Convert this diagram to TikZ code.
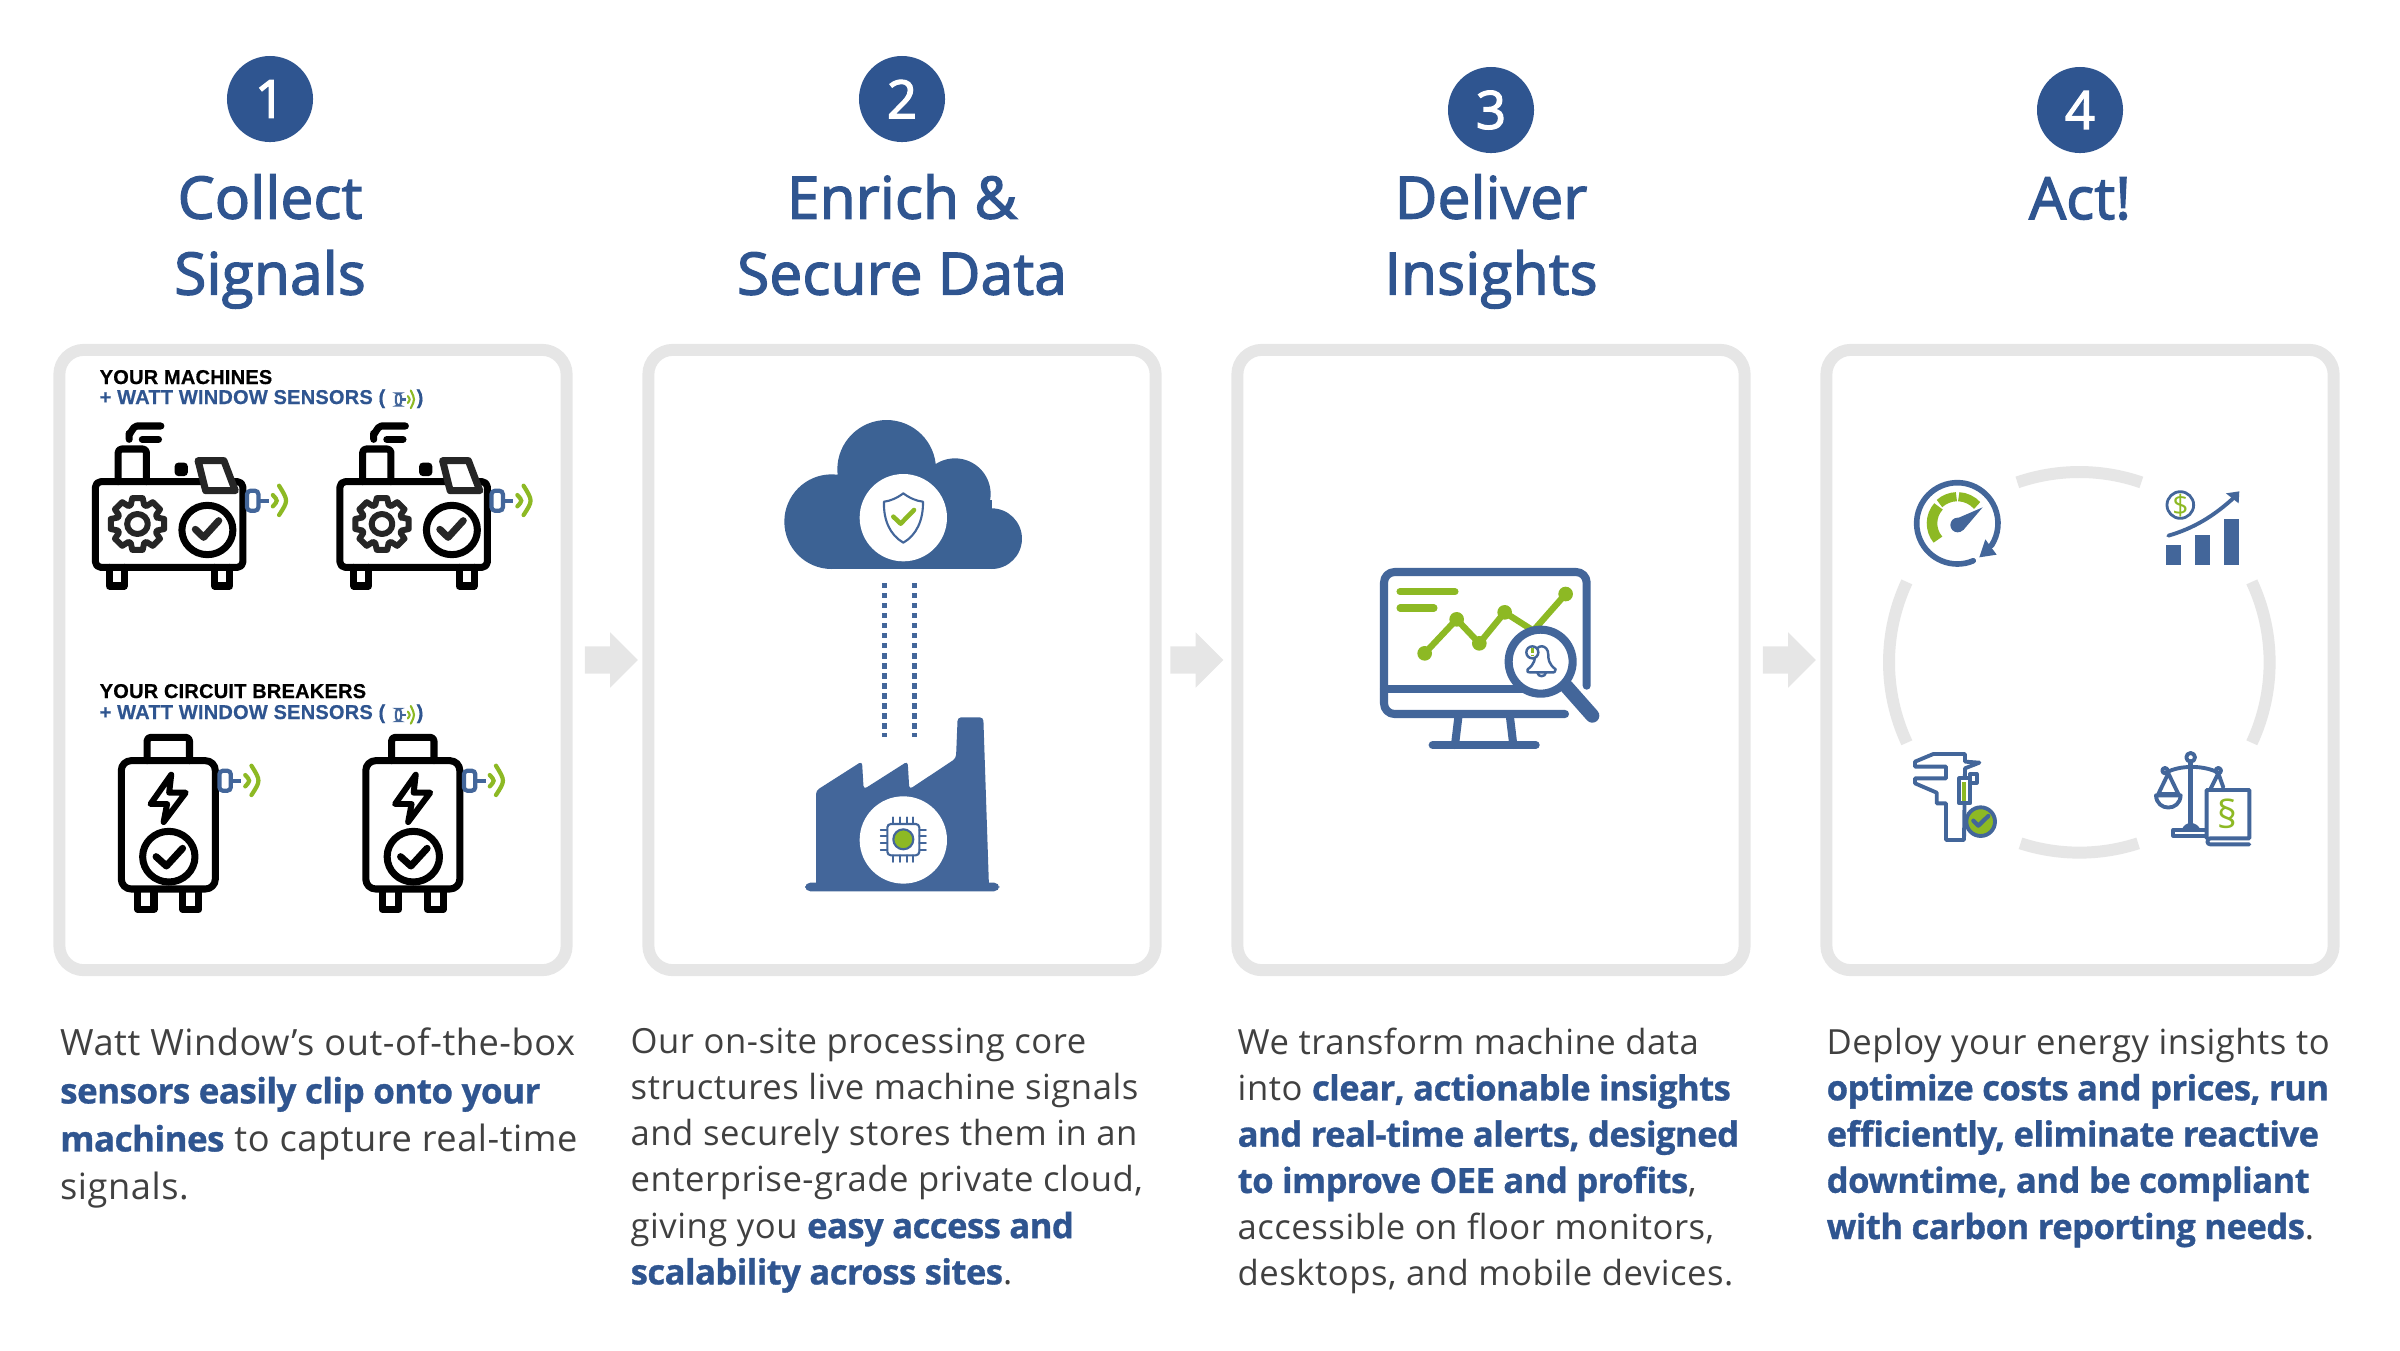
\documentclass[tikz,border=0pt]{standalone}
\usepackage{fontspec}
\setmainfont{Open Sans}[LetterSpace=1.5,BoldFeatures={LetterSpace=-1.6,FakeBold=0.9}]
\newfontfamily\titlefont{Open Sans}[LetterSpace=0.5,FakeBold=2.4]
\newfontfamily\headfont{Liberation Sans}[LetterSpace=1,BoldFeatures={FakeBold=0.5}]
\usepackage{xcolor}
\usetikzlibrary{shapes.arrows,positioning}
\definecolor{wwblue}{HTML}{2F5590}
\definecolor{iconblue}{HTML}{43669A}
\definecolor{cloudblue}{HTML}{3C6294}
\definecolor{wwgreen}{HTML}{8DB924}
\definecolor{cardgray}{HTML}{E6E6E6}
\definecolor{bodygray}{HTML}{404040}
\newcommand{\hilite}[1]{{\bfseries\color{wwblue}#1}}
\tikzset{
  pics/sensor/.style={code={
    \draw[draw=iconblue, fill=white, line width=#1, rounded corners=1pt] (3,-30) -- (36,-30) -- (36,30) -- (3,30) -- cycle;
    \draw[draw=iconblue, line width=#1] (36,0) -- (66,0);
    \draw[draw=wwgreen, line width=#1, line cap=round] (78,-17) .. controls (93,0) .. (78,17);
    \draw[draw=wwgreen, line width=#1, line cap=round] (96,-45) .. controls (123,0) .. (96,43);
  }},
  pics/machine/.style={code={
    \draw[iconline] (230,298) -- (230,280) to[out=-90,in=180] (252,258) -- (322,258);
    \draw[iconline] (268,298) -- (315,298);
    \draw[iconline, rounded corners=1pt] (198,425) -- (198,327) -- (280,327) -- (280,425);
    \fill[black, rounded corners=1pt] (362,368) rectangle (400,408);
    \draw[iconline, rounded corners=1.5pt] (132,425) rectangle (560,682);
    \draw[iconline] (172,682) -- (172,738) -- (215,738) -- (215,682);
    \draw[iconline] (478,682) -- (478,738) -- (522,738) -- (522,682);
    \draw[iconline, fill=white, draw=black!85] (430,362) -- (505,362) -- (538,452) -- (452,452) -- cycle;
    \begin{scope}[shift={(254,552)}]
      \draw[iconline, draw=black!85, line width=1.7pt] (-18:60) \foreach \a in {0,45,...,315}{ -- (\a-19:60) -- (\a-11:79) -- (\a+11:79) -- (\a+19:60)} -- cycle;
      \draw[iconline, draw=black!85, line width=1.7pt] (0,0) circle (30);
    \end{scope}
    \draw[iconline] (457,570) circle (74);
    \draw[iconline, draw=black!85] (422,568) -- (446,592) -- (490,542);
  }},
  pics/breaker/.style={code={
    \draw[iconline, rounded corners=1pt] (282,302) -- (282,232) -- (405,232) -- (405,302);
    \draw[iconline, rounded corners=2.8pt] (207,302) rectangle (480,687);
    \draw[iconline] (255,690) -- (255,748) -- (302,748) -- (302,690);
    \draw[iconline] (386,690) -- (386,748) -- (432,748) -- (432,690);
    \draw[iconline, line width=1.7pt] (352,344) -- (292,432) -- (340,432) -- (330,486) -- (394,398) -- (346,398) -- cycle;
    \draw[iconline, fill=white] (345,590) circle (76);
    \draw[iconline] (308,590) -- (338,618) -- (385,565);
  }}
}
\begin{document}
\begin{tikzpicture}
  [
    x=0.01cm, y=-0.01cm,
    card/.style={draw=cardgray, fill=white, line width=3.4pt, rounded corners=7pt, minimum width=5.07cm, minimum height=6.2cm},
    badge/.style={circle, fill=wwblue, text=white, minimum size=0.86cm, inner sep=0, font=\titlefont\fontsize{15}{18}\selectfont},
    heading/.style={text=wwblue, align=center, anchor=north, inner sep=0, font=\titlefont\fontsize{16.6}{21.6}\selectfont},
    body/.style={text=bodygray, align=left, anchor=north west, inner sep=0, font=\fontsize{9.85}{13.15}\selectfont},
    bodywide/.style={body, font=\fontsize{10.3}{13.65}\selectfont},
    caption/.style={anchor=base west, inner sep=0, font=\headfont\bfseries\fontsize{5.7}{6}\selectfont},
    nextarrow/.style={single arrow, fill=cardgray, inner sep=0, minimum height=0.53cm, single arrow head extend=0.14cm},
    iconline/.style={draw=black, line width=2pt, line join=round, line cap=round},
    blueline/.style={draw=iconblue, line width=1.1pt, line join=round, line cap=round},
    dotline/.style={draw=iconblue, line width=1.52pt, dash pattern=on 1.52pt off 1.33pt}
  ]
  \useasboundingbox (0,0) rectangle (2400,1350);
  % Cards
  \node[card] (card1) at (313,660) {};
  \node[card] (card2) at (902,660) {};
  \node[card] (card3) at (1491,660) {};
  \node[card] (card4) at (2080,660) {};
  % Arrows
  \node[nextarrow] (next1) at (604.5,660) {\phantom{\rule{0.1cm}{0.26cm}}};
  \node[nextarrow] (next2) at (1190,660) {\phantom{\rule{0.1cm}{0.26cm}}};
  \node[nextarrow] (next3) at (1782.5,660) {\phantom{\rule{0.1cm}{0.26cm}}};
  % Badges
  \node[badge] (badge1) at (270,99) {1};
  \node[badge] (badge2) at (902,99) {2};
  \node[badge] (badge3) at (1491,110) {3};
  \node[badge] (badge4) at (2080,110) {4};
  % Headings
  \node[heading] (title1) at (270,173.5) {Collect\\Signals};
  \node[heading] (title2) at (902,173.5) {Enrich \&\\Secure Data};
  \node[heading] (title3) at (1491,173.5) {Deliver\\Insights};
  \node[heading] (title4) at (2080,176.5) {Act!};
  % Card 1
  \node[caption, text=black] (cap1) at (99,384) {YOUR MACHINES};
  \node[caption, text=wwblue] (cap2) at (99,404) {+ WATT WINDOW SENSORS (};
  \node[caption, text=wwblue] (cap3) at (416,404) {)};
  \pic[xscale=0.16, yscale=0.2] at (395.4,399.5) {sensor=0.6pt};
  \node[caption, text=black] (cap4) at (99,698) {YOUR CIRCUIT BREAKERS};
  \node[caption, text=wwblue] (cap5) at (99,719) {+ WATT WINDOW SENSORS (};
  \node[caption, text=wwblue] (cap6) at (416,719) {)};
  \pic[xscale=0.16, yscale=0.2] at (395.4,715) {sensor=0.6pt};
  \foreach \dx in {50,294.5}{
    \pic[xscale=0.3444, yscale=0.3333] at (\dx,340) {machine};
    \pic[xscale=0.3444, yscale=0.3333] at (\dx,660) {breaker};
    \pic[xscale=0.3444, yscale=0.3333] at (\dx+196,500.7) {sensor=1.2pt};
    \pic[xscale=0.3444, yscale=0.3333] at (\dx+168.4,780.7) {sensor=1.2pt};
  }
  % Card 2
  \begin{scope}[shift={(740,400)}, scale=0.3333]
    \fill[cloudblue] (755,416) circle (91) (645,282) circle (107) (440,208) circle (148) (275,365) circle (142);
    \fill[cloudblue] (275,300) rectangle (755,507);
    \fill[white] (490,353) circle (131);
    \draw[blueline, line width=0.6pt] (490,280) .. controls (470,295) and (450,303) .. (432,305) .. controls (430,360) and (450,405) .. (490,428) .. controls (530,405) and (550,360) .. (549,305) .. controls (530,303) and (510,295) .. (490,280) -- cycle;
    \draw[draw=wwgreen, line width=1.3pt, line cap=round, line join=round] (460,350) -- (482,371) -- (522,330);
    \coordinate (cloudA) at (434,549);
    \coordinate (cloudB) at (523,549);
    \coordinate (plantA) at (434,1012);
    \coordinate (plantB) at (523,1012);
    \draw[dotline] (cloudA) -- (plantA);
    \draw[dotline] (cloudB) -- (plantB);
    \fill[iconblue, rounded corners=1.5pt] (195,1448) rectangle (778,1474);
    \fill[iconblue, rounded corners=1pt] (228,1460) -- (228,1172) -- (366,1084) -- (371,1168) -- (503,1084) -- (508,1168) -- (648,1075) -- (653,952) -- (730,952) -- (747,1460) -- cycle;
    \fill[white] (490,1320) circle (131);
    \draw[blueline, line width=0.6pt, rounded corners=1pt] (442,1272) rectangle (538,1366);
    \fill[draw=iconblue, fill=wwgreen, line width=0.6pt] (490,1318) circle (30);
    \foreach \p in {-30,-10,10,30}{
      \draw[blueline, line width=0.5pt] (490+\p,1252) -- (490+\p,1272);
      \draw[blueline, line width=0.5pt] (490+\p,1366) -- (490+\p,1386);
      \draw[blueline, line width=0.5pt] (422,1319+\p) -- (442,1319+\p);
      \draw[blueline, line width=0.5pt] (538,1319+\p) -- (558,1319+\p);
    }
  \end{scope}
  % Card 3
  \begin{scope}[shift={(1340,540)}, scale=0.3333]
    \draw[blueline, line width=2.3pt, rounded corners=3pt] (740,437) -- (740,96) -- (132,96) -- (132,522) -- (675,522);
    \draw[blueline, line width=2.3pt] (132,447) -- (550,447);
    \draw[blueline, line width=2.3pt] (355,532) -- (345,615);
    \draw[blueline, line width=2.3pt] (510,532) -- (520,615);
    \draw[blueline, line width=2.3pt] (278,615) -- (587,615);
    \draw[draw=wwgreen, line width=2pt, line cap=round] (180,155) -- (345,155);
    \draw[draw=wwgreen, line width=2pt, line cap=round] (180,204) -- (282,204);
    \draw[draw=wwgreen, line width=1.8pt, line join=round] (254,340) -- (350,238) -- (418,310) -- (494,217) -- (580,272) -- (677,162);
    \foreach \x/\y in {254/340,350/238,418/310,494/217,677/162}
      \fill[wwgreen] (\x,\y) circle (22);
    \draw[blueline, line width=4pt] (680,440) -- (757,527);
    \draw[blueline, line width=2.3pt, fill=white] (602,365) circle (96);
    \draw[blueline, line width=0.7pt, fill=white] (563,388) .. controls (585,372) and (585,355) .. (585,345) .. controls (585,310) and (625,310) .. (625,345) .. controls (625,355) and (625,372) .. (647,388) .. controls (648,397) and (640,397) .. (640,397) -- (570,397) .. controls (562,397) .. (563,388) -- cycle;
    \draw[blueline, line width=0.7pt] (592,398) .. controls (595,412) and (615,412) .. (618,398);
    \draw[blueline, line width=0.7pt, fill=white] (577,337) circle (18);
    \draw[draw=wwgreen, line width=1pt] (577,325) -- (577,340) (577,344) -- (577,349);
  \end{scope}
  % Card 4
  \begin{scope}[shift={(1860,450)}, scale=0.3333]
    \draw[draw=cardgray, line width=3.4pt] (658,637) ++(72:571) arc[start angle=72, end angle=108, radius=571];
    \draw[draw=cardgray, line width=3.4pt] (658,637) ++(155:571) arc[start angle=155, end angle=205, radius=571];
    \draw[draw=cardgray, line width=3.4pt] (658,637) ++(251:571) arc[start angle=251, end angle=289, radius=571];
    \draw[draw=cardgray, line width=3.4pt] (658,637) ++(-25:571) arc[start angle=-25, end angle=25, radius=571];
    % Gauge
    \draw[blueline, line width=1.6pt] (292,220) ++(67:122) arc[start angle=67, end angle=393, radius=122];
    \fill[iconblue] (358,322) -- (410,314) -- (376,268) -- cycle;
    \draw[draw=wwgreen, line width=3pt] (292,220) ++(140:76) arc[start angle=140, end angle=222, radius=76];
    \draw[draw=wwgreen, line width=2.6pt] (292,220) ++(228:80) arc[start angle=228, end angle=268, radius=80];
    \draw[draw=wwgreen, line width=2.6pt] (292,220) ++(273:80) arc[start angle=273, end angle=318, radius=80];
    \fill[iconblue] (293,225) circle (22);
    \fill[iconblue] (280,210) -- (368,172) -- (310,240) -- cycle;
    % Chart
    \fill[iconblue] (918,285) rectangle (963,345);
    \fill[iconblue] (1005,255) rectangle (1050,345);
    \fill[iconblue] (1091,208) rectangle (1136,345);
    \draw[blueline] (925,257) .. controls (1000,235) and (1060,200) .. (1125,140);
    \fill[iconblue] (1138,124) -- (1098,130) -- (1136,160) -- cycle;
    \draw[blueline, line width=0.8pt] (961,165) circle (40);
    \node[text=wwgreen, inner sep=0, font=\fontsize{8}{8}\selectfont] (dollar) at (961,167) {\$};
    % Caliper
    \draw[blueline, fill=white] (258,950) -- (165,950) -- (165,935) -- (220,912) -- (315,912) -- (315,935) -- (358,938) -- (315,955) -- (312,1170) -- (258,1170) -- (258,1060) -- (230,1060) -- (230,1028) -- (165,1000) -- (165,985) -- (258,985) -- cycle;
    \draw[blueline, fill=white] (298,985) rectangle (330,1060);
    \fill[wwgreen] (305,995) rectangle (317,1052);
    \draw[blueline, fill=white] (330,972) rectangle (350,998);
    \draw[blueline, fill=wwgreen] (362,1115) circle (43);
    \draw[blueline, line width=1.2pt] (340,1112) -- (355,1127) -- (385,1098);
    % Scales
    \draw[blueline, line width=1.4pt] (992,935) -- (992,1120);
    \draw[blueline] (992,922) circle (13);
    \draw[blueline] (918,968) .. controls (960,945) and (1030,945) .. (1075,968);
    \draw[blueline] (915,962) circle (8);
    \draw[blueline] (1075,962) circle (8);
    \draw[blueline] (925,970) -- (895,1032) -- (955,1032) -- cycle;
    \draw[blueline] (1075,970) -- (1045,1030);
    \draw[blueline] (1075,970) -- (1090,1012);
    \draw[blueline] (888,1036) .. controls (890,1085) and (960,1085) .. (962,1036) -- cycle;
    \fill[iconblue] (965,1140) .. controls (975,1112) and (1010,1112) .. (1022,1140) -- cycle;
    \draw[blueline, fill=white] (940,1140) rectangle (1040,1157);
    \draw[blueline, fill=white] (1040,1165) -- (1040,1020) -- (1168,1020) -- (1168,1165) -- (1050,1165) .. controls (1040,1170) and (1040,1183) .. (1050,1183) -- (1168,1183);
    \node[text=wwgreen, inner sep=0, font=\fontsize{11}{11}\selectfont] (para) at (1102,1090) {\S};
  \end{scope}
  % Body text
  \node[bodywide] (text1) at (59.5,1027) {Watt Window’s out-of-the-box\\\hilite{\fontsize{9.95}{13.65}\selectfont sensors easily clip onto your}\\\hilite{\fontsize{9.95}{13.65}\selectfont machines} to capture real-time\\signals.};
  \node[body] (text2) at (630,1027) {Our on-site processing core\\structures live machine signals\\and securely stores them in an\\enterprise-grade private cloud,\\giving you \hilite{easy access and}\\\hilite{scalability across sites}.};
  \node[body] (text3) at (1237,1027) {We transform machine data\\into \hilite{clear, actionable insights}\\\hilite{and real-time alerts, designed}\\\hilite{to improve OEE and profits},\\accessible on floor monitors,\\desktops, and mobile devices.};
  \node[body] (text4) at (1826,1027) {Deploy your energy insights to\\\hilite{optimize costs and prices, run}\\\hilite{efficiently, eliminate reactive}\\\hilite{downtime, and be compliant}\\\hilite{with carbon reporting needs}.};
\end{tikzpicture}
\end{document}
